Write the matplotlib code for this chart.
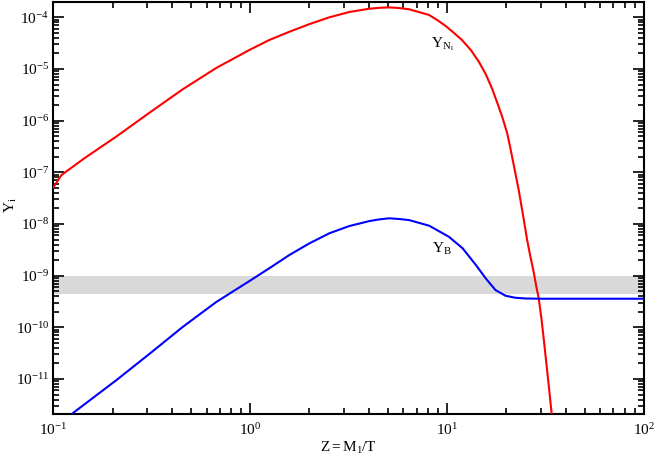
import numpy as np
import matplotlib
matplotlib.use('Agg')
import matplotlib.pyplot as plt
from matplotlib.ticker import LogLocator, LogFormatterSciNotation, NullFormatter

# fuentes tipo Times
plt.rcParams['font.family'] = ['Liberation Serif', 'DejaVu Serif']
plt.rcParams['mathtext.fontset'] = 'custom'
plt.rcParams['mathtext.rm'] = 'Liberation Serif'
plt.rcParams['mathtext.it'] = 'Liberation Serif:italic'

# curva roja: Y_N1
z_n = [0.1, 0.11, 0.142, 0.209, 0.309, 0.456, 0.673, 1.0, 1.25, 1.58, 2.0,
       2.52, 3.19, 4.03, 4.53, 5.08, 5.71, 6.42, 8.11, 8.91, 9.84, 10.8, 11.9,
       13.2, 14.5, 15.7, 16.9, 17.9, 19.05, 20.2, 20.8, 21.8, 23.1, 24.3, 25.5,
       26.5, 27.6, 28.4, 29.2, 30.2, 31.0, 32.6, 34.1]
y_n = [5.1e-8, 8.87e-8, 1.81e-7, 4.93e-7, 1.44e-6, 4.09e-6, 1.05e-5, 2.38e-5,
       3.64e-5, 5.26e-5, 7.4e-5, 1.0e-4, 1.27e-4, 1.47e-4, 1.53e-4, 1.56e-4,
       1.51e-4, 1.43e-4, 1.11e-4, 8.87e-5, 6.79e-5, 5.04e-5, 3.64e-5, 2.33e-5,
       1.38e-5, 8.0e-6, 4.23e-6, 2.33e-6, 1.19e-6, 5.69e-7, 3.38e-7, 1.39e-7,
       4.55e-8, 1.49e-8, 4.9e-9, 2.33e-9, 1.11e-9, 6.1e-10, 3.65e-10, 1.39e-10,
       5.7e-11, 9.6e-12, 1.86e-12]

# curva azul: Y_B
z_b = [0.126, 0.209, 0.309, 0.456, 0.673, 1.0, 1.25, 1.58, 2.0, 2.52, 3.19,
       4.03, 4.53, 5.08, 5.71, 6.42, 8.11, 10.2, 12.0, 14.0, 15.7, 17.6, 19.8,
       22.2, 25.0, 30.0, 100.0]
y_b = [2.2e-12, 9.5e-12, 3.1e-11, 1.03e-10, 3.1e-10, 8.05e-10, 1.39e-9, 2.51e-9,
       4.23e-9, 6.6e-9, 9.15e-9, 1.14e-8, 1.23e-8, 1.29e-8, 1.25e-8, 1.19e-8,
       9.27e-9, 5.68e-9, 3.38e-9, 1.61e-9, 8.9e-10, 5.28e-10, 4.09e-10,
       3.74e-10, 3.62e-10, 3.58e-10, 3.58e-10]

# banda observada
banda = (4.5e-10, 9.8e-10)

fig = plt.figure(figsize=(6.54, 4.58), dpi=100)
ax = fig.add_axes([0.0815, 0.096, 0.9032, 0.8996])

ax.axhspan(banda[0], banda[1], color='#d9d9d9', lw=0, zorder=1)
ax.plot(z_n, y_n, color='red', lw=1.5, zorder=3)
ax.plot(z_b, y_b, color='blue', lw=1.5, zorder=3)

ax.set_xscale('log')
ax.set_yscale('log')
ax.set_xlim(0.1, 100)
ax.set_ylim(2.1e-12, 1.98e-4)

ax.xaxis.set_major_locator(LogLocator(base=10, numticks=10))
ax.yaxis.set_major_locator(LogLocator(base=10, numticks=20))
ax.xaxis.set_minor_locator(LogLocator(base=10, subs=np.arange(2, 10), numticks=20))
ax.yaxis.set_minor_locator(LogLocator(base=10, subs=np.arange(2, 10), numticks=20))
ax.xaxis.set_major_formatter(LogFormatterSciNotation())
ax.yaxis.set_major_formatter(LogFormatterSciNotation())
ax.xaxis.set_minor_formatter(NullFormatter())
ax.yaxis.set_minor_formatter(NullFormatter())

ax.tick_params(which='both', direction='in', top=True, right=True, width=1.2,
               labelsize=11)
ax.tick_params(which='major', length=8)
ax.tick_params(which='minor', length=4)
ax.tick_params(axis='y', which='major', pad=3)
ax.tick_params(axis='x', which='major', pad=6)
for s in ax.spines.values():
    s.set_linewidth(1.5)

ax.set_xlabel(r'$\mathrm{Z{=}M}_{1}\mathrm{/T}$', fontsize=11, labelpad=1)
ax.set_ylabel(r'$\mathrm{Y}_{\mathrm{i}}$', fontsize=11)
ax.yaxis.set_label_coords(-0.058, 0.507)

ax.text(8.28, 2.66e-5, r'$\mathrm{Y}_{\mathrm{N}_{1}}$', fontsize=11, ha='left', va='baseline')
ax.text(8.42, 2.75e-9, r'$\mathrm{Y}_{\mathrm{B}}$', fontsize=11, ha='left', va='baseline')

fig.savefig('out.png', dpi=100)
